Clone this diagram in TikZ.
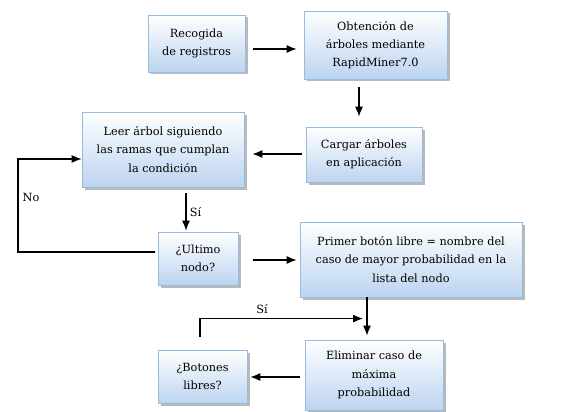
\documentclass[tikz,border=0pt]{standalone}
\usepackage{fontspec}
\setmainfont{DejaVu Serif}
\usetikzlibrary{shapes,arrows,arrows.meta,shadows,positioning,calc}
\definecolor{boxline}{RGB}{150,188,228}
\definecolor{boxlow}{RGB}{188,212,240}
\newcommand{\mnode}[6][(0,0)]{
  \node [box,minimum width=#3,minimum height=#4] (#6) at ($#1+#2$) {#5};
}
\newcommand{\medge}[5][]{
  \coordinate (tail) at ($#2+#4$);
  \coordinate (tip) at ($#3+#5$);
  \path [->] (tail) edge node {#1} (tip);
}
\tikzset{
  box/.style={draw=boxline,line width=0.8pt,top color=white,bottom color=boxlow,
    align=center,inner sep=2pt,
    drop shadow={shadow xshift=2.5pt,shadow yshift=-2.5pt,fill=black!55}},
}

\begin{document}
\begin{tikzpicture}[x=1pt,y=-1pt,auto,>={Latex[length=10pt,width=8pt]},line width=1.1pt,
  every node/.style={font=\fontsize{11.3}{18.3}\selectfont}]
  \useasboundingbox (0,0) rectangle (576,412);

  \mnode{(196.5,43.5)}{97}{57}{Recogida\\de registros}{rec}
  \mnode{(375.5,45)}{143}{68}{Obtención de\\árboles mediante\\RapidMiner7.0}{obt}
  \mnode{(364,154.5)}{116}{55}{Cargar árboles\\en aplicación}{car}
  \mnode{(163,149.5)}{162}{75}{Leer árbol siguiendo\\las ramas que cumplan\\la condición}{lee}
  \mnode{(198,258.5)}{80}{53}{¿Ultimo\\nodo?}{ult}
  \mnode{(411,259.5)}{222}{75}{Primer botón libre = nombre del\\caso de mayor probabilidad en la\\lista del nodo}{pri}
  \mnode{(374,375)}{138}{70}{Eliminar caso de\\máxima\\probabilidad}{eli}
  \mnode{(202.5,376.5)}{89}{53}{¿Botones\\libres?}{bot}

  \medge{(rec.east)}{(obt.west)}{(8,5.5)}{(-7,4)}
  \medge{(obt.south)}{(car.north)}{(-16.5,8)}{(-5,-10)}
  \medge{(car.west)}{(lee.east)}{(-4,-0.5)}{(8,4.5)}
  \medge[Sí]{(lee.south)}{(ult.north)}{(23,6)}{(-12,-1)}
  \medge{(ult.east)}{(pri.west)}{(15,1.5)}{(-3,0.5)}
  \medge{(pri.south)}{(eli.north)}{(-44,0)}{(-7,-4)}
  \medge{(eli.west)}{(bot.east)}{(-5,2)}{(3,0.5)}

  % lazos de vuelta
  \coordinate (nl) at (18,159);
  \draw [->] ($(ult.west)+(-3,-6.5)$) -| (nl) -- ($(lee.west)+(0,9.5)$);
  \node at (31,197) (no) {No};
  \draw [->] ($(bot.north)+(-2.5,-13)$) |- ($(eli.north)+(-11,-21)$);
  \node at (262,309) (si) {Sí};
\end{tikzpicture}
\end{document}
